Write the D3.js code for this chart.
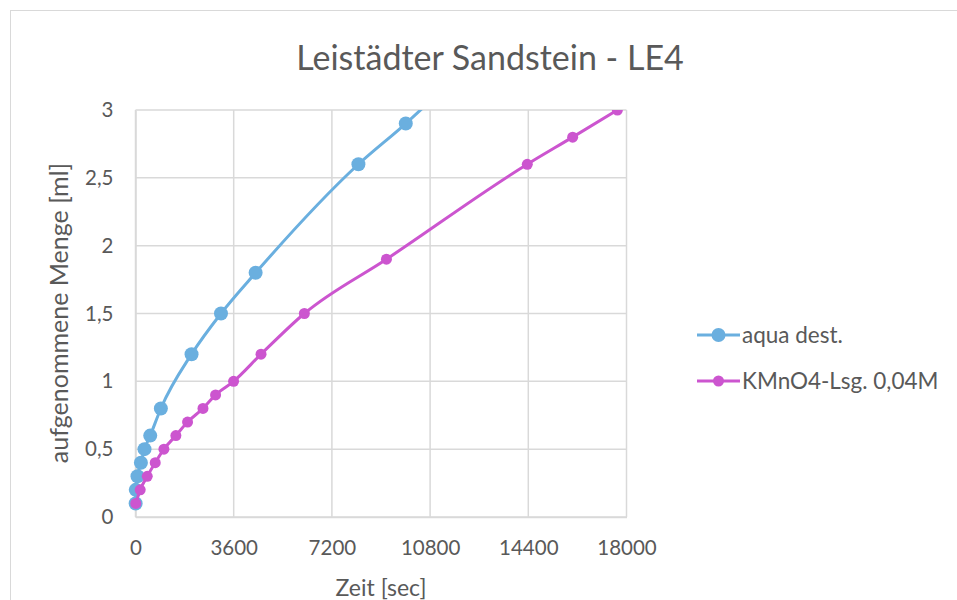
<!DOCTYPE html>
<html><head><meta charset="utf-8">
<script src="https://cdn.jsdelivr.net/npm/d3@7"></script>
<style>
body{margin:0;background:#fff;}
svg text{font-family:Lato,"Open Sans",sans-serif;fill:#595959;}
</style></head>
<body><svg id="c" width="957" height="600"></svg>
<script>
const title = "Leistädter Sandstein - LE4";
const xTitle = "Zeit [sec]";
const yTitle = "aufgenommene Menge [ml]";
const xTicks = [0, 3600, 7200, 10800, 14400, 18000];
const yTicks = [0, 0.5, 1, 1.5, 2, 2.5, 3];
const seriesNames = ["aqua dest.", "KMnO4-Lsg. 0,04M"];
const seriesColors = ["#6aafdf", "#cc55cf"];
const aquaTime = [5, 10, 73, 198, 330, 540, 930, 2055, 3134, 4404, 8172, 9908, 11500];
const aquaVol  = [0.1, 0.2, 0.3, 0.4, 0.5, 0.6, 0.8, 1.2, 1.5, 1.8, 2.6, 2.9, 3.2];
const kmnTime = [10, 172, 430, 723, 1042, 1480, 1908, 2473, 2936, 3596, 4602, 6191, 9200, 14363, 16026, 17666];
const kmnVol  = [0.1, 0.2, 0.3, 0.4, 0.5, 0.6, 0.7, 0.8, 0.9, 1.0, 1.2, 1.5, 1.9, 2.6, 2.8, 3.0];

const svg = d3.select("#c");
svg.append("rect").attr("x",10.5).attr("y",10.5).attr("width",960).attr("height",600)
  .attr("fill","#fff").attr("stroke","#d9d9d9").attr("stroke-width",1);

const L = 135.5, R = 626.5, T = 110, B = 517;
const x = d3.scaleLinear().domain([0,18000]).range([L,R]);
const y = d3.scaleLinear().domain([0,3]).range([B,T]);
const fmtY = v => String(v).replace(".", ",");

svg.append("g").selectAll("line").data(yTicks).join("line")
  .attr("x1",L).attr("x2",R).attr("y1",d=>y(d)).attr("y2",d=>y(d))
  .attr("stroke","#d9d9d9").attr("stroke-width",1.5);
svg.append("g").selectAll("line").data(xTicks).join("line")
  .attr("y1",T).attr("y2",B).attr("x1",d=>x(d)).attr("x2",d=>x(d))
  .attr("stroke","#d9d9d9").attr("stroke-width",1.5);

const xAxis = svg.append("g").attr("transform",`translate(0,${B})`)
  .call(d3.axisBottom(x).tickValues(xTicks).tickSize(0).tickPadding(23).tickFormat(d3.format("d")));
xAxis.select(".domain").attr("stroke","#d9d9d9").attr("stroke-width",1.5);
xAxis.selectAll("text").style("font-size","20.5px").attr("fill","#595959");
const yAxis = svg.append("g").attr("transform",`translate(${L},0)`)
  .call(d3.axisLeft(y).tickValues(yTicks).tickSize(0).tickPadding(22).tickFormat(fmtY));
yAxis.select(".domain").attr("stroke","#d9d9d9").attr("stroke-width",1.5);
yAxis.selectAll("text").style("font-size","20.5px").attr("fill","#595959");

svg.append("text").attr("x",490).attr("y",70).attr("text-anchor","middle")
  .style("font-size","34px").text(title);
svg.append("text").attr("x",381).attr("y",596).attr("text-anchor","middle")
  .style("font-size","23px").text(xTitle);
svg.append("text").attr("transform","translate(68,313) rotate(-90)").attr("text-anchor","middle")
  .style("font-size","25px").text(yTitle);

svg.append("clipPath").attr("id","pc").append("rect")
  .attr("x",L-10).attr("y",T).attr("width",R-L+20).attr("height",B-T+10);

const data = [
  {name:seriesNames[0], color:seriesColors[0], r:7, pts:aquaTime.map((t,i)=>[t,aquaVol[i]])},
  {name:seriesNames[1], color:seriesColors[1], r:5.5, pts:kmnTime.map((t,i)=>[t,kmnVol[i]])}
];
const line = d3.line().x(d=>x(d[0])).y(d=>y(d[1])).curve(d3.curveMonotoneX);
const g = svg.append("g").attr("clip-path","url(#pc)");
data.forEach(s=>{
  g.append("path").datum(s.pts).attr("d",line).attr("fill","none")
    .attr("stroke",s.color).attr("stroke-width",3);
  g.selectAll(null).data(s.pts.filter(p=>p[1]<=3)).join("circle")
    .attr("cx",d=>x(d[0])).attr("cy",d=>y(d[1])).attr("r",s.r).attr("fill",s.color);
});

const lg = svg.append("g");
data.forEach((s,i)=>{
  const yy = 335 + i*46;
  lg.append("line").attr("x1",697).attr("x2",740).attr("y1",yy).attr("y2",yy)
    .attr("stroke",s.color).attr("stroke-width",3);
  lg.append("circle").attr("cx",718.5).attr("cy",yy).attr("r",s.r).attr("fill",s.color);
  lg.append("text").attr("x",742).attr("y",yy).attr("dy","0.35em")
    .style("font-size","22.5px").text(s.name);
});
</script></body></html>
